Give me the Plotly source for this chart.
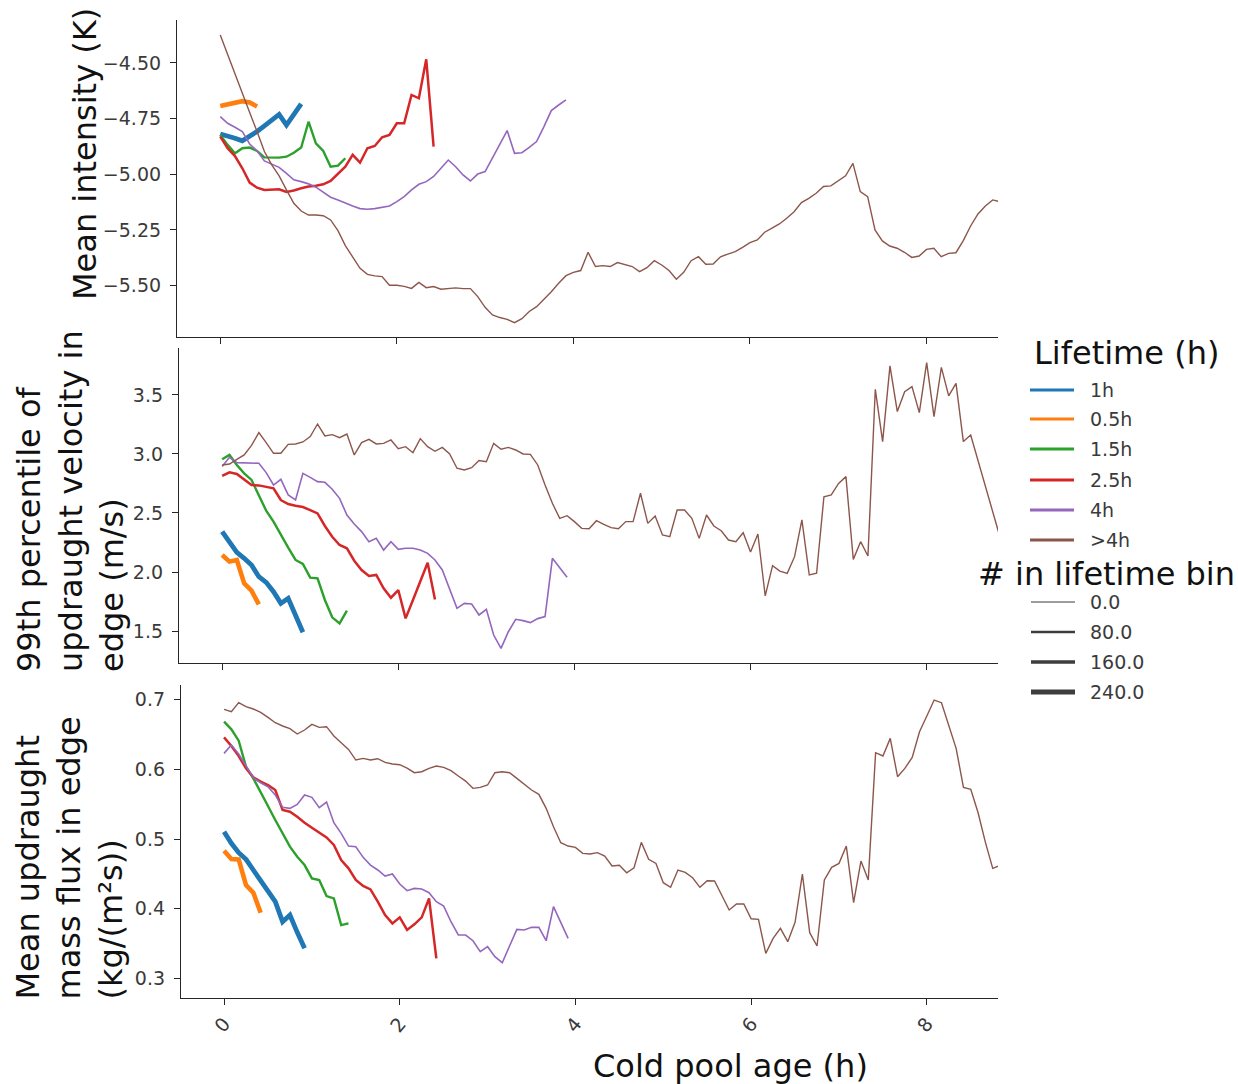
import plotly.graph_objects as go

W, H = 1238, 1084

# ---------------- data ----------------
LIFETIMES = ["1h", "0.5h", "1.5h", "2.5h", "4h", ">4h"]
AGE_STEP_MIN = 5  # cold pool age sampled every 5 minutes

INT_1H = [-4.819, -4.826, -4.838, -4.850, -4.831, -4.808, -4.783, -4.756, -4.731, -4.779, -4.734, -4.684]
INT_05H = [-4.693, -4.687, -4.681, -4.672, -4.678, -4.696]
INT_15H = [-4.823, -4.868, -4.906, -4.883, -4.880, -4.895, -4.924, -4.925, -4.925, -4.921, -4.903, -4.880,
           -4.764, -4.861, -4.895, -4.966, -4.961, -4.928]
INT_25H = [-4.831, -4.883, -4.918, -4.973, -5.037, -5.060, -5.070, -5.070, -5.067, -5.079, -5.073, -5.063,
           -5.055, -5.051, -5.045, -5.030, -4.999, -4.966, -4.913, -4.948, -4.883, -4.873, -4.834, -4.823,
           -4.771, -4.771, -4.644, -4.659, -4.484, -4.876]
INT_4H = [-4.741, -4.771, -4.789, -4.808, -4.864, -4.895, -4.940, -4.954, -4.969, -4.996, -5.025, -5.033,
          -5.043, -5.058, -5.082, -5.103, -5.115, -5.130, -5.142, -5.154, -5.157, -5.154, -5.148, -5.142,
          -5.123, -5.100, -5.070, -5.045, -5.033, -5.010, -4.973, -4.936, -4.966, -5.003, -5.030, -4.999,
          -4.988, -4.928, -4.868, -4.804, -4.906, -4.903, -4.879, -4.853, -4.786, -4.714, -4.689, -4.666]
INT_GT4H = [-4.375, -4.464, -4.554, -4.639, -4.723, -4.808, -4.898, -4.958, -5.007, -5.070,
            -5.130, -5.165, -5.183, -5.183, -5.186, -5.205, -5.253, -5.320, -5.373, -5.422,
            -5.449, -5.456, -5.459, -5.498, -5.498, -5.503, -5.512, -5.485, -5.509, -5.504,
            -5.516, -5.513, -5.510, -5.513, -5.513, -5.549, -5.597, -5.631, -5.643, -5.651,
            -5.666, -5.648, -5.616, -5.594, -5.561, -5.527, -5.489, -5.455, -5.440, -5.432,
            -5.350, -5.414, -5.410, -5.414, -5.396, -5.404, -5.414, -5.437, -5.419, -5.388,
            -5.407, -5.432, -5.471, -5.440, -5.388, -5.370, -5.404, -5.403, -5.370, -5.358,
            -5.347, -5.328, -5.307, -5.295, -5.260, -5.242, -5.223, -5.197, -5.168, -5.127,
            -5.108, -5.085, -5.055, -5.052, -5.030, -5.007, -4.951, -5.078, -5.100, -5.250,
            -5.299, -5.322, -5.332, -5.350, -5.373, -5.367, -5.337, -5.332, -5.370, -5.355,
            -5.352, -5.298, -5.232, -5.178, -5.142, -5.115, -5.123]

UP_1H = [2.342, 2.251, 2.167, 2.116, 2.059, 1.960, 1.912, 1.833, 1.734, 1.777, 1.636, 1.489]
UP_05H = [2.144, 2.088, 2.102, 1.904, 1.842, 1.726]
UP_15H = [2.955, 2.992, 2.907, 2.836, 2.780, 2.653, 2.520, 2.427, 2.314, 2.206, 2.102, 2.068,
          1.952, 1.946, 1.763, 1.616, 1.565, 1.672]
UP_25H = [2.814, 2.845, 2.831, 2.780, 2.737, 2.734, 2.723, 2.709, 2.610, 2.576, 2.562, 2.551,
          2.525, 2.497, 2.390, 2.299, 2.229, 2.201, 2.096, 2.017, 1.966, 1.975, 1.862, 1.782,
          1.847, 1.607, 1.763, 1.927, 2.079, 1.768]
UP_4H = [2.893, 2.972, 2.927, 2.927, 2.927, 2.921, 2.842, 2.737, 2.785, 2.653, 2.610, 2.836,
         2.802, 2.766, 2.760, 2.701, 2.624, 2.483, 2.407, 2.342, 2.257, 2.285, 2.186, 2.257,
         2.192, 2.201, 2.201, 2.186, 2.158, 2.102, 2.017, 1.847, 1.692, 1.734, 1.729, 1.636,
         1.684, 1.466, 1.353, 1.494, 1.599, 1.588, 1.571, 1.605, 1.622, 2.116, 2.040, 1.955]
UP_GT4H = [2.907, 2.915, 2.955, 2.992, 3.073, 3.181, 3.096, 3.006, 3.006, 3.082,
           3.085, 3.102, 3.147, 3.254, 3.153, 3.164, 3.138, 3.169, 2.992, 3.096,
           3.124, 3.085, 3.090, 3.119, 3.045, 3.062, 3.011, 3.130, 3.062, 3.023,
           3.056, 3.000, 2.879, 2.864, 2.884, 2.944, 2.935, 3.090, 3.040, 3.056,
           3.034, 3.000, 2.997, 2.907, 2.737, 2.582, 2.455, 2.477, 2.427, 2.370,
           2.367, 2.435, 2.404, 2.376, 2.367, 2.427, 2.427, 2.667, 2.412, 2.475,
           2.314, 2.299, 2.525, 2.525, 2.455, 2.285, 2.483, 2.390, 2.350, 2.271,
           2.257, 2.333, 2.169, 2.322, 1.797, 2.054, 2.008, 1.989, 2.130, 2.441,
           1.975, 1.989, 2.638, 2.653, 2.751, 2.808, 2.107, 2.257, 2.136, 3.548,
           3.105, 3.746, 3.359, 3.528, 3.571, 3.350, 3.774, 3.316, 3.734, 3.492,
           3.599, 3.105, 3.161, 2.944, 2.737, 2.511, 2.294]

MF_1H = [0.5105, 0.4938, 0.4804, 0.4708, 0.4555, 0.4411, 0.4267, 0.4100, 0.3812, 0.3908, 0.3659, 0.3429]
MF_05H = [0.4832, 0.4713, 0.4708, 0.4339, 0.4229, 0.3942]
MF_15H = [0.6686, 0.6576, 0.6413, 0.6039, 0.5872, 0.5680, 0.5474, 0.5273, 0.5081, 0.4890, 0.4746, 0.4626,
          0.4435, 0.4411, 0.4181, 0.4148, 0.3764, 0.3788]
MF_25H = [0.6461, 0.6336, 0.6193, 0.6015, 0.5886, 0.5824, 0.5776, 0.5704, 0.5417, 0.5393, 0.5321, 0.5235,
          0.5163, 0.5091, 0.5024, 0.4914, 0.4698, 0.4579, 0.4411, 0.4325, 0.4277, 0.4100, 0.3908, 0.3788,
          0.3875, 0.3693, 0.3774, 0.3875, 0.4148, 0.3285]
MF_4H = [0.6231, 0.6351, 0.6221, 0.6049, 0.5881, 0.5809, 0.5752, 0.5632, 0.5455, 0.5441, 0.5498, 0.5632,
         0.5599, 0.5450, 0.5532, 0.5235, 0.5081, 0.4899, 0.4890, 0.4737, 0.4626, 0.4555, 0.4468, 0.4497,
         0.4353, 0.4258, 0.4291, 0.4282, 0.4229, 0.4100, 0.4037, 0.3812, 0.3621, 0.3621, 0.3539, 0.3381,
         0.3453, 0.3309, 0.3223, 0.3463, 0.3702, 0.3693, 0.3731, 0.3731, 0.3539, 0.4028, 0.3812, 0.3573]
MF_GT4H = [0.6863, 0.6830, 0.6959, 0.6901, 0.6868, 0.6820, 0.6748, 0.6671, 0.6624, 0.6585,
           0.6509, 0.6566, 0.6648, 0.6604, 0.6614, 0.6480, 0.6384, 0.6288, 0.6135, 0.6159,
           0.6135, 0.6154, 0.6102, 0.6078, 0.6068, 0.6020, 0.5953, 0.5967, 0.6015, 0.6049,
           0.6030, 0.5982, 0.5905, 0.5833, 0.5728, 0.5742, 0.5776, 0.5953, 0.5967, 0.5953,
           0.5872, 0.5785, 0.5704, 0.5642, 0.5441, 0.5177, 0.4947, 0.4899, 0.4880, 0.4794,
           0.4784, 0.4804, 0.4756, 0.4612, 0.4622, 0.4516, 0.4588, 0.4952, 0.4708, 0.4650,
           0.4373, 0.4306, 0.4555, 0.4521, 0.4444, 0.4306, 0.4401, 0.4397, 0.4195, 0.3980,
           0.4066, 0.4066, 0.3855, 0.3846, 0.3357, 0.3573, 0.3716, 0.3525, 0.3803, 0.4497,
           0.3654, 0.3463, 0.4411, 0.4593, 0.4650, 0.4899, 0.4085, 0.4684, 0.4411, 0.6240,
           0.6193, 0.6446, 0.5896, 0.6015, 0.6173, 0.6542, 0.6767, 0.6997, 0.6959, 0.6638,
           0.6303, 0.5742, 0.5714, 0.5378, 0.4952, 0.4579, 0.4622]

PANELS = [
    {"title": "Mean intensity (K)", "series": [INT_1H, INT_05H, INT_15H, INT_25H, INT_4H, INT_GT4H],
     "ticks": [-5.5, -5.25, -5.0, -4.75, -4.5]},
    {"title": "99th percentile of<br>updraught velocity in<br>edge (m/s)",
     "series": [UP_1H, UP_05H, UP_15H, UP_25H, UP_4H, UP_GT4H],
     "ticks": [1.5, 2.0, 2.5, 3.0, 3.5]},
    {"title": "Mean updraught<br>mass flux in edge<br>(kg/(m²s))",
     "series": [MF_1H, MF_05H, MF_15H, MF_25H, MF_4H, MF_GT4H],
     "ticks": [0.3, 0.4, 0.5, 0.6, 0.7]},
]
X_TICKS = [0, 2, 4, 6, 8]
SIZE_LEGEND = [0.0, 80.0, 160.0, 240.0]

# ---------------- style ----------------
COLORS = {"1h": "#1f77b4", "0.5h": "#ff7f0e", "1.5h": "#2ca02c",
          "2.5h": "#d62728", "4h": "#9467bd", ">4h": "#8c564b"}
WIDTHS = {"1h": 4.8, "0.5h": 4.6, "1.5h": 2.4, "2.5h": 2.5, "4h": 1.6, ">4h": 1.4}
SIZE_WIDTHS = [1.0, 2.4, 3.6, 4.8]
FONT = "DejaVu Sans"
AXC = "#262626"
TICKC = "#3a3a3a"
TITLE_SIZE = 32
SMALL_SIZE = 19

# pixel geometry of the three panels (left, right, top, bottom) and y ranges
GEOM = [
    {"l": 177, "r": 998, "t": 20, "b": 337, "yr": [-5.7303, -4.3075]},
    {"l": 179, "r": 998, "t": 348, "b": 663, "yr": [1.229, 3.898]},
    {"l": 181, "r": 998, "t": 685, "b": 998, "yr": [0.2716, 0.7213]},
]
XR = [-0.49, 8.81]


def px(x):
    return x / W


def py(y):
    return 1 - y / H


fig = go.Figure()

for p, (panel, g) in enumerate(zip(PANELS, GEOM)):
    xa = "x" if p == 0 else f"x{p + 1}"
    ya = "y" if p == 0 else f"y{p + 1}"
    for lab, vals in zip(LIFETIMES, panel["series"]):
        ages = [i * AGE_STEP_MIN / 60 for i in range(len(vals))]
        fig.add_trace(go.Scatter(
            x=ages, y=vals, mode="lines", name=lab, showlegend=False,
            line=dict(color=COLORS[lab], width=WIDTHS[lab]),
            xaxis=xa, yaxis=ya, hoverinfo="skip"))
    sfx = "" if p == 0 else str(p + 1)
    fig.layout["xaxis" + sfx] = dict(
        domain=[px(g["l"]), px(g["r"])], range=XR, anchor=ya,
        showgrid=False, zeroline=False, showline=True, linecolor=AXC, linewidth=1.25,
        ticks="outside", ticklen=6, tickwidth=1.25, tickcolor=AXC,
        tickvals=X_TICKS, ticktext=[str(v) for v in X_TICKS],
        showticklabels=(p == 2), tickangle=-50,
        tickfont=dict(family=FONT, size=SMALL_SIZE, color=TICKC))
    fig.layout["yaxis" + sfx] = dict(
        domain=[py(g["b"]), py(g["t"])], range=g["yr"], anchor=xa,
        showgrid=False, zeroline=False, showline=True, linecolor=AXC, linewidth=1.25,
        ticks="outside", ticklen=6, tickwidth=1.25, tickcolor=AXC,
        tickvals=panel["ticks"],
        tickformat=".2f" if p == 0 else ".1f",
        ticklabelstandoff=5,
        tickfont=dict(family=FONT, size=SMALL_SIZE, color=TICKC))

annotations = []
# y axis titles (rotated, lines aligned at their start)
title_pos = [(85, 302), (70, 674), (69, 1002)]
for panel, (cx, by) in zip(PANELS, title_pos):
    annotations.append(dict(
        text=panel["title"], x=px(cx), y=py(by), xref="paper", yref="paper",
        xanchor="center", yanchor="bottom", textangle=-90, align="left",
        showarrow=False, font=dict(family=FONT, size=TITLE_SIZE, color="#111111")))

# x axis title
annotations.append(dict(
    text="Cold pool age (h)", x=px(730), y=py(1066), xref="paper", yref="paper",
    xanchor="center", yanchor="middle", showarrow=False,
    font=dict(family=FONT, size=TITLE_SIZE, color="#111111")))

shapes = []
# legend: lifetime
annotations.append(dict(
    text="Lifetime (h)", x=px(1126), y=py(353), xref="paper", yref="paper",
    xanchor="center", yanchor="middle", showarrow=False,
    font=dict(family=FONT, size=TITLE_SIZE, color="#111111")))
life_y = [390, 419, 449, 480, 510, 540]
for lab, yy in zip(LIFETIMES, life_y):
    shapes.append(dict(type="line", xref="paper", yref="paper",
                       x0=px(1030), x1=px(1074), y0=py(yy), y1=py(yy),
                       line=dict(color=COLORS[lab], width=3)))
    annotations.append(dict(
        text=lab.replace(">", "&gt;"), x=px(1088), y=py(yy), xref="paper", yref="paper",
        xanchor="left", yanchor="middle", showarrow=False,
        font=dict(family=FONT, size=SMALL_SIZE, color=TICKC)))

# legend: size
annotations.append(dict(
    text="# in lifetime bin", x=px(1106), y=py(574), xref="paper", yref="paper",
    xanchor="center", yanchor="middle", showarrow=False,
    font=dict(family=FONT, size=TITLE_SIZE, color="#111111")))
size_y = [602, 632, 662, 692]
for val, wdt, yy in zip(SIZE_LEGEND, SIZE_WIDTHS, size_y):
    shapes.append(dict(type="line", xref="paper", yref="paper",
                       x0=px(1031), x1=px(1075), y0=py(yy), y1=py(yy),
                       line=dict(color="#3d3d3d", width=wdt)))
    annotations.append(dict(
        text=f"{val:.1f}", x=px(1088), y=py(yy), xref="paper", yref="paper",
        xanchor="left", yanchor="middle", showarrow=False,
        font=dict(family=FONT, size=SMALL_SIZE, color=TICKC)))

fig.update_layout(
    width=W, height=H, margin=dict(l=0, r=0, t=0, b=0),
    paper_bgcolor="white", plot_bgcolor="white",
    showlegend=False, annotations=annotations, shapes=shapes,
    font=dict(family=FONT, color=AXC), hovermode=False)

fig.write_html("out.html", config={"displayModeBar": False})
